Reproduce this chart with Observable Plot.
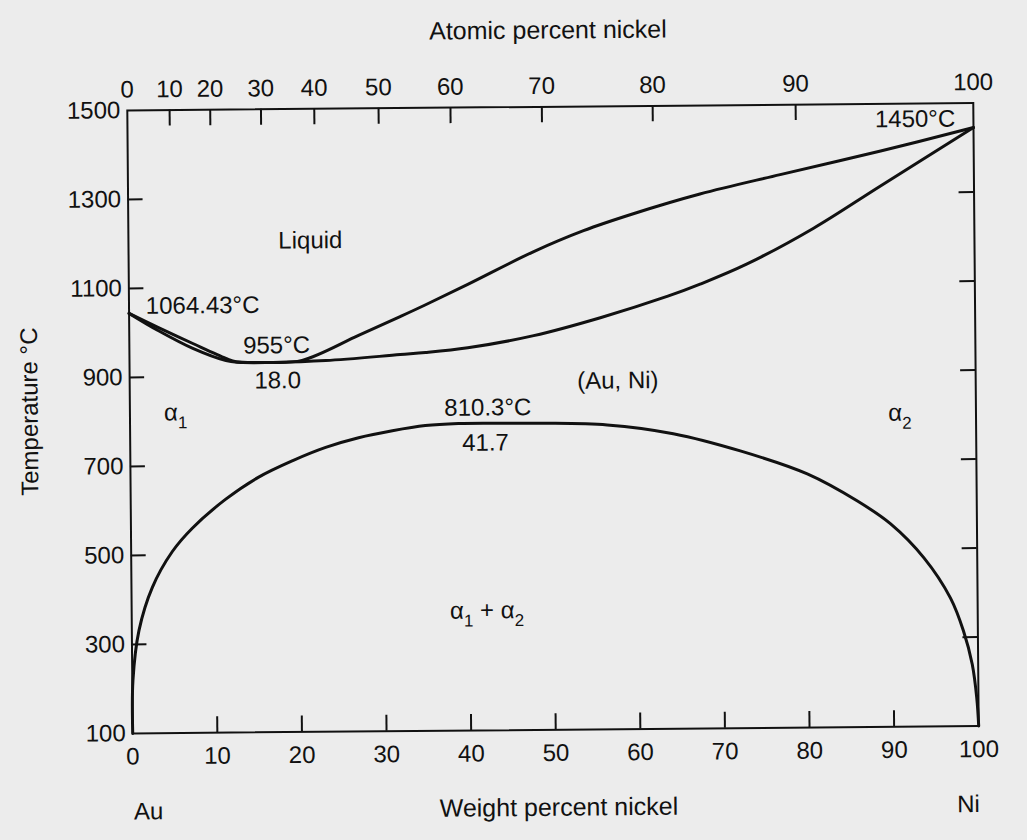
<!DOCTYPE html>
<html><head><meta charset="utf-8">
<script src="https://cdn.jsdelivr.net/npm/d3@7"></script>
<script src="https://cdn.jsdelivr.net/npm/@observablehq/plot@0.6"></script>
<style>
html,body{margin:0;padding:0;background:#ececec;}
#chart svg{display:block;transform:rotate(-0.5deg);transform-origin:552.5px 417.75px;}
</style></head><body><div id="chart"></div>
<script>
// Weight percent nickel vs temperature (°C)
const liquidusWt = [0, 3.4, 7.5, 11.4, 12.6, 16.5, 20.4, 27.1, 32.1, 35.0, 40.0, 47.9, 53.8, 59.7, 67.6, 77.1, 89.0, 100];
const liquidusT  = [1044, 1012, 975, 941, 933, 931, 935, 990, 1032, 1057, 1102, 1175, 1221, 1258, 1301, 1343, 1394, 1445];
const solidusWt  = [0, 3.4, 7.5, 11.4, 12.9, 17, 23.2, 32.0, 35.0, 40.0, 47.8, 55.7, 63.7, 67.6, 73.1, 81.0, 88.9, 100];
const solidusT   = [1044, 1005, 964, 936, 932, 931, 934, 946, 950, 960, 986, 1025, 1072, 1099, 1143, 1222, 1315, 1445];
const solvusWt   = [0, 0.08, 0.84, 2.47, 4.87, 7.25, 11.2, 15.1, 19.2, 23.1, 27.0, 31.0, 34.9, 38.8, 43.0, 48.5, 56.4, 64.2, 72.1, 80.0, 85.9, 89.8, 93.7, 96.8, 98.3, 99.3, 99.8, 100];
const solvusT    = [100, 219, 331, 428, 508, 560, 624, 673, 710, 739, 760, 775, 786, 790, 790, 789, 784, 763, 723, 670, 608, 556, 479, 388, 314, 239, 163, 100];

// Axes
const weightTicks = [0, 10, 20, 30, 40, 50, 60, 70, 80, 90, 100];
const tempTicks = [100, 300, 500, 700, 900, 1100, 1300, 1500];
const atomicLabels = [0, 10, 20, 30, 40, 50, 60, 70, 80, 90, 100];
const atomicAtWeight = [0, 5.0, 9.8, 15.8, 22.1, 29.7, 38.2, 49.0, 62.1, 79.0, 100]; // where each atomic % tick sits on the weight % scale

// Annotations
const labelText = ["Liquid", "1064.43°C", "955°C", "18.0", "α₁", "(Au, Ni)", "810.3°C", "41.7", "α₁ + α₂", "α₂", "1450°C"];
const labelWt   = [21.5, 8.7, 17.4, 17.5, 5.4, 57.7, 42.3, 42.0, 42.0, 91.0, 93.1];
const labelT    = [1204, 1060, 969, 890, 820, 883, 825, 746, 369, 805, 1465];

const toRows = (xs, ys) => xs.map((x, i) => ({x, y: ys[i]}));
const liquidus = toRows(liquidusWt, liquidusT);
const solidus = toRows(solidusWt, solidusT);
const solvus = toRows(solvusWt, solvusT);
const labels = labelText.map((t, i) => ({t, x: labelWt[i], y: labelT[i]}));
const atomicMap = new Map(atomicAtWeight.map((w, i) => [w, String(atomicLabels[i])]));

const W = 1027, H = 840;
const mL = 129.5, mR = W - 975.5, mT = 106.25, mB = H - 729.25;
const pxX = 100 / (W - mL - mR), pxY = 1400 / (H - mT - mB);
const innerX = weightTicks.slice(1, -1);
const innerAt = atomicAtWeight.slice(1, -1);
const innerY = tempTicks.slice(1, -1);
const ink = "#111";

const chart = Plot.plot({
  width: W, height: H,
  marginLeft: mL, marginRight: mR, marginTop: mT, marginBottom: mB,
  style: {background: "transparent", fontFamily: "'Liberation Sans', Arial, sans-serif", fontSize: "24px", color: ink},
  x: {domain: [0, 100]},
  y: {domain: [100, 1500]},
  marks: [
    Plot.axisX(weightTicks, {anchor: "bottom", tickSize: 0, tickPadding: 14, label: null, fontSize: 24, tickFormat: d => String(d)}),
    Plot.axisX(atomicAtWeight, {anchor: "top", tickSize: 0, tickPadding: 13, label: null, fontSize: 24, tickFormat: d => atomicMap.get(d)}),
    Plot.axisY(tempTicks, {anchor: "left", tickSize: 0, tickPadding: 7, label: null, fontSize: 24, tickFormat: d => String(d)}),
    Plot.ruleX(innerX, {x: d => d, y1: 100, y2: 100 + 16 * pxY, stroke: ink, strokeWidth: 2}),
    Plot.ruleX(innerAt, {x: d => d, y1: 1500, y2: 1500 - 16 * pxY, stroke: ink, strokeWidth: 2}),
    Plot.ruleY(innerY, {y: d => d, x1: 0, x2: 15 * pxX, stroke: ink, strokeWidth: 2}),
    Plot.ruleY(innerY, {y: d => d, x1: 100, x2: 100 - 15 * pxX, stroke: ink, strokeWidth: 2}),
    Plot.frame({stroke: ink, strokeWidth: 2}),
    Plot.line(liquidus, {x: "x", y: "y", curve: "catmull-rom", stroke: ink, strokeWidth: 3}),
    Plot.line(solidus, {x: "x", y: "y", curve: "catmull-rom", stroke: ink, strokeWidth: 3}),
    Plot.line(solvus, {x: "x", y: "y", curve: "catmull-rom", stroke: ink, strokeWidth: 3}),
    Plot.text(labels, {x: "x", y: "y", text: "t", fontSize: 24, fill: ink}),
    Plot.text(["Atomic percent nickel"], {x: [49.8], frameAnchor: "top", dy: -86, fontSize: 25, fill: ink}),
    Plot.text(["Weight percent nickel"], {x: [50.3], frameAnchor: "bottom", dy: 86, fontSize: 25, fill: ink}),
    Plot.text(["Au"], {x: [1.8], frameAnchor: "bottom", dy: 86, fontSize: 24, fill: ink}),
    Plot.text(["Ni"], {x: [98.7], frameAnchor: "bottom", dy: 86, fontSize: 24, fill: ink}),
    Plot.text(["Temperature °C"], {y: [825], frameAnchor: "left", textAnchor: "middle", dx: -100, rotate: -90, fontSize: 24, fill: ink})
  ]
});

// Render the α subscripts as real subscripts
const NS = "http://www.w3.org/2000/svg";
chart.querySelectorAll("text").forEach(el => {
  const s = el.textContent;
  if (!/[₁₂]/.test(s)) return;
  el.textContent = "";
  let shifted = false;
  s.split(/([₁₂])/).forEach(p => {
    if (!p) return;
    const t = document.createElementNS(NS, "tspan");
    if (p === "₁" || p === "₂") {
      t.textContent = p === "₁" ? "1" : "2";
      t.setAttribute("font-size", "17");
      t.setAttribute("dy", "8");
      shifted = true;
    } else {
      t.textContent = p;
      if (shifted) { t.setAttribute("dy", "-8"); shifted = false; }
    }
    el.appendChild(t);
  });
});
document.getElementById("chart").appendChild(chart);
</script></body></html>
